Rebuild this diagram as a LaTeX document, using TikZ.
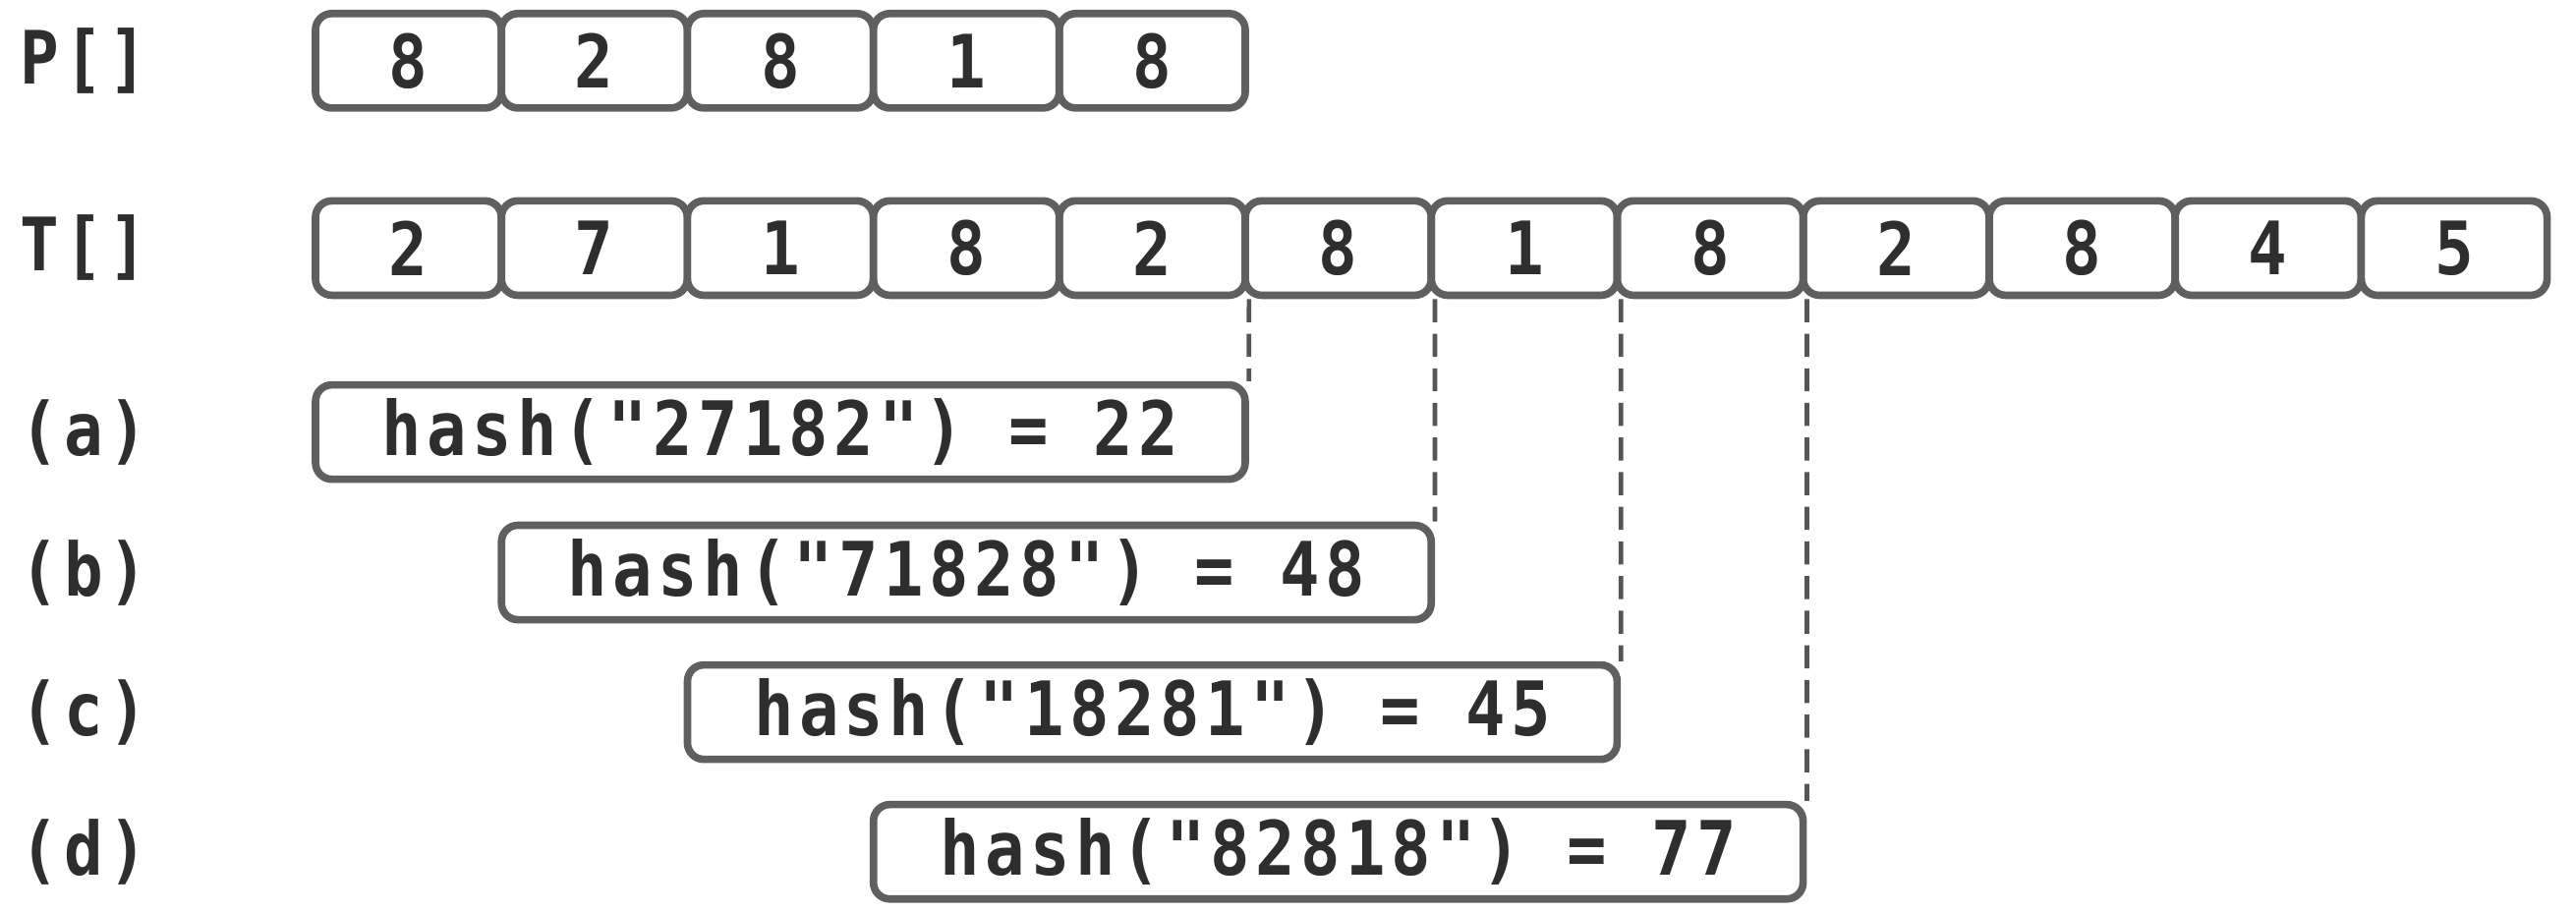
\documentclass[tikz,border=0pt]{standalone}
\usepackage{fontspec}
\newfontfamily\monob{DejaVu Sans Mono}[FakeStretch=0.88,LetterSpace=7.2]
\begin{document}
\begin{tikzpicture}[x=0.02cm,y=-0.02cm,
  cell/.style={draw=boxgray,line width=2.6pt,rounded corners=0.2cm,
    minimum width=2.264cm,minimum height=1.15cm,inner sep=0pt,
    text=txtgray,font=\monob\bfseries\fontsize{25.5}{30}\selectfont},
  hashbox/.style={cell,minimum width=11.32cm,
    font=\monob\bfseries\fontsize{26}{30}\selectfont},
  rowlabel/.style={anchor=west,inner sep=0pt,text=txtgray,
    font=\monob\bfseries\fontsize{25.5}{30}\selectfont},
  guide/.style={draw=dashgray,line width=1.6pt,dash pattern=on 8pt off 4pt}]
\definecolor{boxgray}{HTML}{5F5F5F}
\definecolor{txtgray}{HTML}{2E2E2E}
\definecolor{dashgray}{HTML}{555555}
\useasboundingbox (0,0) rectangle (1568,555.2);
% P row
\foreach \v [count=\i from 0] in {8,2,8,1,8}
  \node[cell] (p\i) at ({192+113.2*(\i+0.5)},37) {\v};
% T row
\foreach \v [count=\i from 0] in {2,7,1,8,2,8,1,8,2,8,4,5}
  \node[cell] (t\i) at ({192+113.2*(\i+0.5)},151) {\v};
\node[rowlabel] (lp) at (12,37) {P[]};
\node[rowlabel] (lt) at (12,151) {T[]};
% hash boxes
\node[hashbox] (ha) at (475,263) {hash("27182") = 22};
\node[hashbox] (hb) at (588.2,348.5) {hash("71828") = 48};
\node[hashbox] (hc) at (701.4,433.5) {hash("18281") = 45};
\node[hashbox] (hd) at (814.6,518.5) {hash("82818") = 77};
\node[rowlabel] (la) at (12,263) {(a)};
\node[rowlabel] (lb) at (12,348.5) {(b)};
\node[rowlabel] (lc) at (12,433.5) {(c)};
\node[rowlabel] (ld) at (12,518.5) {(d)};
% guides
\draw[guide] (t4.south east) -- (ha.north east);
\draw[guide] (t5.south east) -- (hb.north east);
\draw[guide] (t6.south east) -- (hc.north east);
\draw[guide] (t7.south east) -- (hd.north east);
\end{tikzpicture}
\end{document}
